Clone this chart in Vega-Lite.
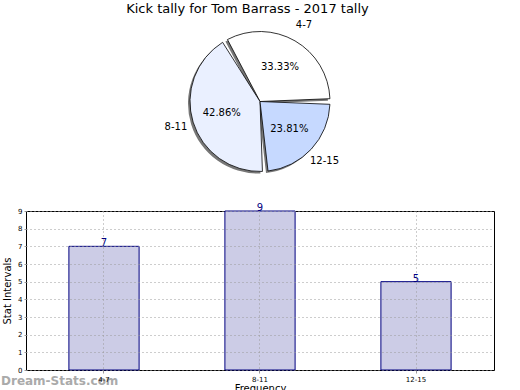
{
  "$schema": "https://vega.github.io/schema/vega-lite/v6.json",
  "padding": {"left": 0, "right": 27, "top": 3, "bottom": 0},
  "background": "white",
  "title": {"text": "Kick tally for Tom Barrass - 2017 tally", "fontSize": 13, "font": "DejaVu Sans", "fontWeight": "normal", "anchor": "middle", "offset": 4, "color": "black"},
  "data": {"values": [
    {"interval": "4-7", "count": 7, "pct": "33.33%", "idx": 3},
    {"interval": "8-11", "count": 9, "pct": "42.86%", "idx": 2},
    {"interval": "12-15", "count": 5, "pct": "23.81%", "idx": 1}
  ]},
  "bounds": "flush",
  "spacing": 32,
  "vconcat": [
    {
      "width": 468,
      "height": 155,
      "view": {"stroke": null},
      "encoding": {
        "theta": {"field": "count", "type": "quantitative", "stack": true, "scale": {"range": [1.5708, 7.854]}},
        "order": {"field": "idx", "type": "quantitative", "sort": "ascending"}
      },
      "layer": [
        {
          "mark": {"type": "arc", "radius": 70, "padAngle": 0.08, "fill": "#777777", "xOffset": -2, "yOffset": 2}
        },
        {
          "mark": {"type": "arc", "radius": 70, "padAngle": 0.08, "stroke": "black", "strokeWidth": 0.8},
          "encoding": {
            "color": {"field": "interval", "type": "nominal", "legend": null,
              "scale": {"domain": ["4-7", "8-11", "12-15"], "range": ["#ffffff", "#eaf0ff", "#c6d9ff"]}}
          }
        },
        {
          "mark": {"type": "text", "radius": 40, "fontSize": 10, "font": "DejaVu Sans", "color": "black"},
          "encoding": {"text": {"field": "pct"}}
        },
        {
          "mark": {"type": "text", "radius": 88, "fontSize": 10, "font": "DejaVu Sans", "color": "black"},
          "encoding": {"text": {"field": "interval"}}
        }
      ]
    },
    {
      "width": 468,
      "height": 159,
      "view": {"stroke": "black", "strokeWidth": 1},
      "layer": [
        {
          "encoding": {
            "x": {"field": "interval", "type": "nominal", "sort": null,
              "scale": {"paddingInner": 0.55, "paddingOuter": 0.275},
              "axis": {"title": "Frequency", "labelAngle": 0, "labelFontSize": 7, "titleFontSize": 10, "titleFontWeight": "normal",
                "titleFont": "DejaVu Sans", "labelFont": "DejaVu Sans", "grid": true, "gridDash": [1, 3], "gridColor": "#9a9a9a",
                "bandPosition": 0.5, "zindex": 1, "domain": false, "tickSize": 3, "tickColor": "#999", "labelPadding": 2, "titlePadding": 1,
                "labelColor": "black", "titleColor": "black"}},
            "y": {"field": "count", "type": "quantitative",
              "scale": {"domain": [0, 9], "nice": false},
              "axis": {"title": "Stat Intervals", "values": [0,1,2,3,4,5,6,7,8,9], "labelFontSize": 7, "titleFontSize": 10,
                "titleFontWeight": "normal", "titleFont": "DejaVu Sans", "labelFont": "DejaVu Sans", "grid": true, "gridDash": [1, 3],
                "gridColor": "#9a9a9a", "zindex": 1, "domain": false, "tickSize": 2, "tickColor": "#999", "labelPadding": 2, "titlePadding": 5,
                "labelColor": "black", "titleColor": "black"}}
          },
          "layer": [
            {"mark": {"type": "bar", "fill": "#ccccE6", "stroke": "#000080", "strokeWidth": 1}},
            {"mark": {"type": "text", "baseline": "bottom", "dy": 2, "fontSize": 10, "font": "DejaVu Sans", "color": "#000080"},
              "encoding": {"text": {"field": "count", "type": "quantitative"}}}
          ]
        },
        {
          "data": {"values": [{"mark": "Dream-Stats.com"}]},
          "mark": {"type": "text", "align": "left", "baseline": "middle",
            "fontSize": 12, "fontWeight": "bold", "font": "DejaVu Sans", "color": "#aaaaaa"},
          "encoding": {"text": {"field": "mark"}, "x": {"value": -25}, "y": {"value": 170}}
        }
      ]
    }
  ]
}
